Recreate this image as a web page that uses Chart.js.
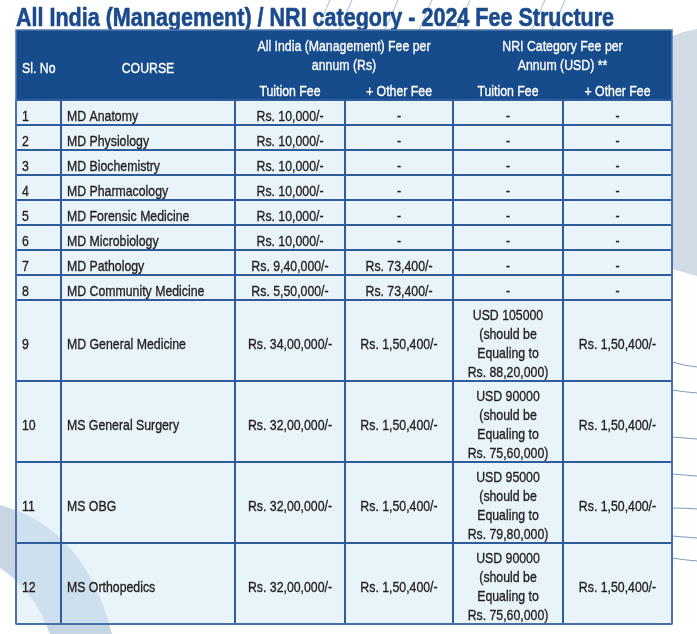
<!DOCTYPE html>
<html>
<head>
<meta charset="utf-8">
<title>Fee Structure 2024</title>
<script src="https://cdn.jsdelivr.net/npm/chart.js@4.4.1/dist/chart.umd.min.js"></script>
<style>
  html, body { margin: 0; padding: 0; background: #fff; }
  #wrap { width: 697px; height: 634px; position: relative; }
</style>
</head>
<body>
<div id="wrap"><canvas id="feeChart" width="697" height="634"></canvas></div>
<script>
// Datos de la tabla
const titleText = 'All India (Management) / NRI category - 2024 Fee Structure';
const headerTop = ['Sl. No', 'COURSE', 'All India (Management) Fee per\nannum (Rs)', 'NRI Category Fee per\nAnnum (USD) **'];
const headerSub = ['Tuition Fee', '+ Other Fee', 'Tuition Fee', '+ Other Fee'];
const courses = [
  'MD Anatomy', 'MD Physiology', 'MD Biochemistry', 'MD Pharmacology',
  'MD Forensic Medicine', 'MD Microbiology', 'MD Pathology', 'MD Community Medicine',
  'MD General Medicine', 'MS General Surgery', 'MS OBG', 'MS Orthopedics'
];
const indiaTuition = [10000, 10000, 10000, 10000, 10000, 10000, 940000, 550000, 3400000, 3200000, 3200000, 3200000];
const indiaOther = [null, null, null, null, null, null, 73400, 73400, 150400, 150400, 150400, 150400];
const nriTuitionUsd = [null, null, null, null, null, null, null, null, 105000, 90000, 95000, 90000];
const nriTuitionInr = [null, null, null, null, null, null, null, null, 8820000, 7560000, 7980000, 7560000];
const nriOther = [null, null, null, null, null, null, null, null, 150400, 150400, 150400, 150400];

// Formato indio (lakhs)
function inr(n) {
  const s = String(n);
  if (s.length <= 3) return s;
  const last3 = s.slice(-3);
  const rest = s.slice(0, -3).replace(/\B(?=(\d{2})+(?!\d))/g, ',');
  return rest + ',' + last3;
}
function fee(n) { return n == null ? '-' : 'Rs. ' + inr(n) + '/-'; }
function nriFee(i) {
  if (nriTuitionUsd[i] == null) return '-';
  return 'USD ' + nriTuitionUsd[i] + '\n(should be\nEqualing to\nRs. ' + inr(nriTuitionInr[i]) + ')';
}

const rows = courses.map((c, i) => [
  String(i + 1), c, fee(indiaTuition[i]), fee(indiaOther[i]), nriFee(i), fee(nriOther[i])
]);

// Diseño
const colWidths = [45, 174, 110, 108, 110, 109];
const colAlign = ['left', 'left', 'center', 'center', 'center', 'center'];
const headGroupH = 45;
const headSubH = 25;
const lineGap = 19;
const rowHeights = rows.map(r => {
  const n = Math.max(...r.map(t => t.split('\n').length));
  return n > 1 ? n * lineGap + 5 : 25;
});
const colEdges = [0];
colWidths.forEach(w => colEdges.push(colEdges[colEdges.length - 1] + w));
const rowEdges = [headGroupH + headSubH];
rowHeights.forEach(h => rowEdges.push(rowEdges[rowEdges.length - 1] + h));
const totalW = colEdges[colEdges.length - 1];
const totalH = rowEdges[rowEdges.length - 1];

const navy = '#164b8c';
const gridColor = '#2f5d9b';
const textColor = '#231f20';

// Fuente estrecha (si no existe, se comprime Liberation Sans)
function hasFont(name) {
  const c = document.createElement('canvas').getContext('2d');
  const t = 'MD Community Medicine 0123';
  c.font = '20px monospace';
  const a = c.measureText(t).width;
  c.font = '20px "' + name + '", monospace';
  return c.measureText(t).width !== a;
}
let family = '"Liberation Sans Narrow"';
let sx = 1;
if (!hasFont('Liberation Sans Narrow')) {
  family = '"Liberation Sans", Arial, sans-serif';
  sx = 0.82;
}

function drawText(ctx, str, x, y, align, font, color, stretch = 1, weight = 0.35) {
  ctx.save();
  ctx.font = font;
  ctx.fillStyle = color;
  ctx.strokeStyle = color;
  ctx.lineWidth = weight;
  ctx.lineJoin = 'round';
  ctx.textAlign = align;
  ctx.textBaseline = 'alphabetic';
  ctx.translate(x, y);
  ctx.scale(sx * stretch, 1);
  ctx.fillText(str, 0, 0);
  if (weight > 0) ctx.strokeText(str, 0, 0);
  ctx.restore();
}

// Varias líneas centradas verticalmente en la celda
function drawLines(ctx, text, x, top, bottom, align, font, color) {
  const lines = text.split('\n');
  const mid = (top + bottom) / 2 + 3;
  lines.forEach((ln, k) => {
    const cy = mid + (k - (lines.length - 1) / 2) * lineGap;
    drawText(ctx, ln, x, cy + 5.4, align, font, color);
  });
}

const feeTable = {
  id: 'feeTable',
  beforeDraw(chart) {
    const { ctx, chartArea } = chart;
    ctx.save();
    ctx.fillStyle = '#fff';
    ctx.fillRect(0, 0, chart.width, chart.height);

    // adornos de fondo
    ctx.fillStyle = '#d0dbe6';
    ctx.beginPath();
    ctx.moveTo(672, 36);
    ctx.quadraticCurveTo(684, 31, 697, 29);
    ctx.lineTo(697, 276);
    ctx.lineTo(672, 269);
    ctx.closePath();
    ctx.fill();

    ctx.fillStyle = '#c8d6e4';
    ctx.beginPath();
    ctx.moveTo(0, 505);
    ctx.quadraticCurveTo(85, 528, 112, 634);
    ctx.lineTo(50, 634);
    ctx.quadraticCurveTo(34, 590, 0, 568);
    ctx.closePath();
    ctx.fill();

    ctx.strokeStyle = '#7f9abf';
    ctx.lineWidth = 1;
    [[362, 367], [390, 393], [437, 439], [474, 476], [508, 509], [536, 538], [558, 561]].forEach(([a, b]) => {
      ctx.beginPath();
      ctx.moveTo(672, a);
      ctx.quadraticCurveTo(685, b - 1, 697, b);
      ctx.stroke();
    });

    ctx.strokeStyle = '#a9bad0';
    [330, 352, 398, 432, 470, 545, 565].forEach(xt => {
      ctx.beginPath();
      ctx.moveTo(xt, 0);
      ctx.lineTo(xt - 14, 32);
      ctx.stroke();
    });
    ctx.restore();

    // título
    drawText(ctx, titleText, chartArea.left, chartArea.top - 4, 'left', 'bold 25px ' + family, '#1b4b8d', 1.05, 0.6);
  },
  beforeDatasetsDraw(chart) {
    const { ctx, scales: { x, y } } = chart;
    const px = v => x.getPixelForValue(v);
    const py = v => y.getPixelForValue(v);
    const font = '15px ' + family;
    ctx.save();

    // cabecera
    ctx.fillStyle = navy;
    ctx.fillRect(px(0), py(0), px(totalW) - px(0), py(rowEdges[0]) - py(0));
    drawLines(ctx, headerTop[0], px(colEdges[0]) + 6, py(0), py(rowEdges[0]), 'left', font, '#fff');
    drawLines(ctx, headerTop[1], (px(colEdges[1]) + px(colEdges[2])) / 2, py(0), py(rowEdges[0]), 'center', font, '#fff');
    drawLines(ctx, headerTop[2], (px(colEdges[2]) + px(colEdges[4])) / 2, py(0), py(headGroupH), 'center', font, '#fff');
    drawLines(ctx, headerTop[3], (px(colEdges[4]) + px(colEdges[6])) / 2, py(0), py(headGroupH), 'center', font, '#fff');
    headerSub.forEach((t, k) => {
      const c = k + 2;
      drawLines(ctx, t, (px(colEdges[c]) + px(colEdges[c + 1])) / 2, py(headGroupH), py(rowEdges[0]), 'center', font, '#fff');
    });

    // celdas
    rows.forEach((r, i) => {
      const top = py(rowEdges[i]);
      const bot = py(rowEdges[i + 1]);
      ctx.fillStyle = 'rgba(212, 231, 246, 0.5)';
      ctx.fillRect(px(0), top, px(totalW) - px(0), bot - top);
      r.forEach((t, c) => {
        const l = px(colEdges[c]);
        const rr = px(colEdges[c + 1]);
        const tx = colAlign[c] === 'left' ? l + 6 : (l + rr) / 2;
        drawLines(ctx, t, tx, top, bot, colAlign[c], font, textColor);
      });
    });

    // rejilla
    ctx.strokeStyle = gridColor;
    ctx.lineWidth = 2;
    rowEdges.forEach(v => {
      ctx.beginPath();
      ctx.moveTo(px(0), py(v));
      ctx.lineTo(px(totalW), py(v));
      ctx.stroke();
    });
    colEdges.forEach(v => {
      ctx.beginPath();
      ctx.moveTo(px(v), py(rowEdges[0]));
      ctx.lineTo(px(v), py(totalH));
      ctx.stroke();
    });
    ctx.strokeStyle = '#4f78ae';
    ctx.lineWidth = 1.5;
    ctx.strokeRect(px(0), py(0), px(totalW) - px(0), py(totalH) - py(0));
    ctx.restore();
  }
};

new Chart(document.getElementById('feeChart'), {
  type: 'scatter',
  data: { datasets: [] },
  options: {
    responsive: false,
    animation: false,
    events: [],
    layout: { padding: { left: 16, right: 25, top: 30, bottom: 10 } },
    plugins: { legend: { display: false }, tooltip: { enabled: false }, title: { display: false } },
    scales: {
      x: { type: 'linear', display: false, min: 0, max: totalW },
      y: { type: 'linear', display: false, reverse: true, min: 0, max: totalH }
    }
  },
  plugins: [feeTable]
});
</script>
</body>
</html>
